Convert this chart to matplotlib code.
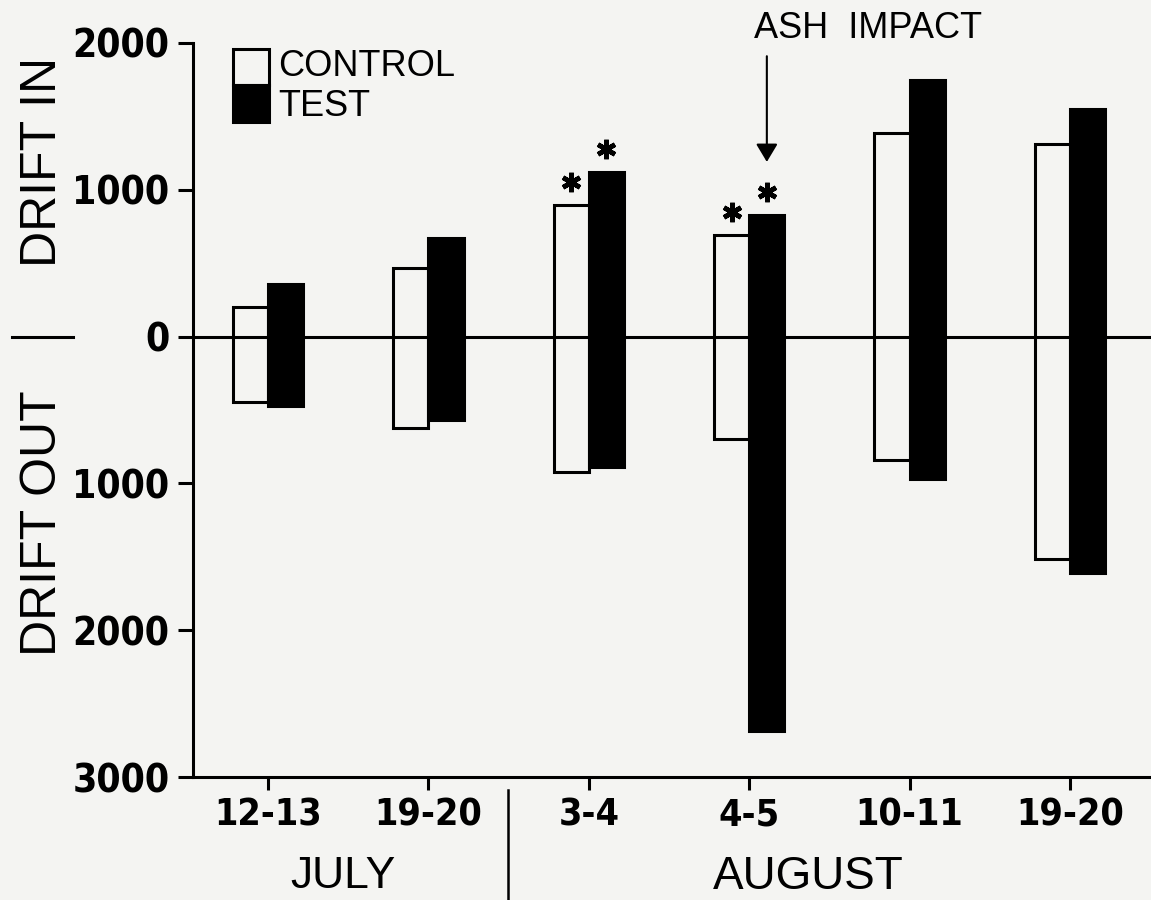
import numpy as np
import matplotlib
matplotlib.use("Agg")
import matplotlib.pyplot as plt
from matplotlib import font_manager
from matplotlib.patches import Rectangle
from matplotlib.lines import Line2D

# data (drift counts)
dates = ["12-13", "19-20", "3-4", "4-5", "10-11", "19-20"]
control_in = np.array([205, 470, 895, 695, 1390, 1310])
control_out = np.array([445, 625, 920, 700, 840, 1515])
test_in = np.array([355, 675, 1120, 830, 1750, 1550])
test_out = np.array([475, 570, 885, 2690, 970, 1610])
star_groups = [2, 3]      # groups marked with *
impact_group = 3          # ash impact arrow
yticks = [2000, 1000, 0, -1000, -2000, -3000]

# look for a condensed bold face for the numbers
cond = None
for f in font_manager.fontManager.ttflist:
    name = f.name.lower()
    narrowish = "narrow" in name or "condensed" in name or "condensed" in str(f.stretch)
    if narrowish and f.weight in ("bold", 700):
        cond = f.fname
        break

if cond:
    yfont = font_manager.FontProperties(fname=cond, size=28)
    xfont = font_manager.FontProperties(fname=cond, size=27)
else:
    yfont = font_manager.FontProperties(family=["Liberation Sans"], weight="bold", size=26)
    xfont = font_manager.FontProperties(family=["Liberation Sans"], weight="bold", size=25)

bg = "#f4f4f2"
W, H = 1151, 900
plain = ["Liberation Sans", "DejaVu Sans"]

fig = plt.figure(figsize=(W / 100, H / 100), dpi=100, facecolor=bg)
ax = fig.add_axes([193 / W, (H - 777) / H, (W - 193) / W, (777 - 43) / H])
ax.set_facecolor(bg)

x = np.arange(len(dates))
w = 0.22
lw = 2.2

ax.bar(x - w / 2, control_in + control_out, bottom=-control_out, width=w,
       facecolor=bg, edgecolor="black", linewidth=lw, zorder=2)
ax.bar(x + w / 2, test_in + test_out, bottom=-test_out, width=w,
       facecolor="black", edgecolor="black", linewidth=lw, zorder=2)
ax.axhline(0, color="black", lw=lw, zorder=3)

# significance stars
sx = np.concatenate([x[star_groups] - w / 2, x[star_groups] + w / 2])
sy = np.concatenate([control_in[star_groups], test_in[star_groups]]) + 155
ax.plot(sx, sy, ls="none", marker=(6, 2, 0), ms=14, mew=3.4, color="black", zorder=4)

# ash impact arrow
ax.annotate("", xy=(impact_group + w / 2, 1190), xytext=(impact_group + w / 2, 1910),
            arrowprops=dict(arrowstyle="-|>,head_length=0.5,head_width=0.3",
                            lw=1.5, color="black", shrinkA=0, shrinkB=0,
                            mutation_scale=22),
            annotation_clip=False)
fig.text(868 / W, 1 - 28 / H, "ASH  IMPACT", ha="center", va="center",
         fontsize=26, family=plain)

ax.set_xlim(-0.4676, 5.505)
ax.set_ylim(-3000, 2000)
ax.set_yticks(yticks)
ax.set_yticklabels([str(abs(v)) for v in yticks], fontproperties=yfont)
ax.set_xticks(x)
ax.set_xticklabels(dates, fontproperties=xfont)
ax.tick_params(axis="y", direction="out", length=11, width=lw, pad=6)
ax.tick_params(axis="x", direction="out", length=9, width=lw, pad=6)
for s in ["top", "right"]:
    ax.spines[s].set_visible(False)
for s in ["left", "bottom"]:
    ax.spines[s].set_linewidth(lw)

# month labels and divider
fig.text(343 / W, 1 - 877 / H, "JULY", ha="center", va="center", fontsize=32, family=plain)
fig.text(808 / W, 1 - 877 / H, "AUGUST", ha="center", va="center", fontsize=33, family=plain)
fig.add_artist(Line2D([508 / W, 508 / W], [1 - 790 / H, 0], color="black", lw=1.8))

# y axis label: DRIFT OUT | DRIFT IN
fig.text(43 / W, 1 - 162 / H, "DRIFT IN", rotation=90, ha="center", va="center",
         fontsize=36, family=plain)
fig.text(43 / W, 1 - 523 / H, "DRIFT OUT", rotation=90, ha="center", va="center",
         fontsize=36, family=plain)
fig.add_artist(Line2D([12 / W, 73 / W], [1 - 337 / H, 1 - 337 / H], color="black", lw=2.2))

# legend boxes
fig.add_artist(Rectangle((233 / W, 1 - 85 / H), 36 / W, 36 / H, transform=fig.transFigure,
                         facecolor=bg, edgecolor="black", lw=lw))
fig.add_artist(Rectangle((233 / W, 1 - 122 / H), 36 / W, 37 / H, transform=fig.transFigure,
                         facecolor="black", edgecolor="black", lw=lw))
fig.text(278 / W, 1 - 66 / H, "CONTROL", ha="left", va="center", fontsize=26, family=plain)
fig.text(278 / W, 1 - 106 / H, "TEST", ha="left", va="center", fontsize=26, family=plain)

fig.savefig("out.png", dpi=100, facecolor=bg)
